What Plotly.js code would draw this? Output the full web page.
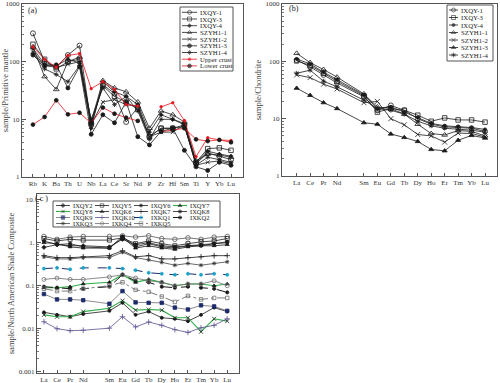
<!DOCTYPE html>
<html><head><meta charset="utf-8">
<script src="https://cdn.plot.ly/plotly-3.0.1.min.js"></script>
<style>html,body{margin:0;padding:0;background:#fff}#chart{width:500px;height:383px}</style>
</head><body><div id="chart"></div>
<script>
// ---------- DATA ----------
// Panel (a): primitive-mantle normalised spider diagram
const elemsA = ["Rb","K","Ba","Th","U","Nb","La","Ce","Sr","Nd","P","Zr","Hf","Sm","Ti","Y","Yb","Lu"];
const namesA = ["IXQY-1","IXQY-3","IXQY-4","SZYH1-1","SZYH1-2","SZYH1-3","SZYH1-4","Upper crust","Lower crust"];
const a_IXQY1  = [310,100,80,130,190,8,40,28,9,16,5,7,7,8,1.7,2.6,2.3,2.0];
const a_IXQY3  = [200,110,75,100,110,8.5,38,25,20,15,5,7,7,7.5,1.8,3.1,3.2,2.9];
const a_IXQY4  = [170,90,85,110,95,7,45,30,25,18,6,12,10,8.5,1.8,2.8,2.5,2.3];
const a_SZYH11 = [180,55,33,100,120,9,47,35,30,20,7,14,12,9,1.9,2.5,2.4,2.2];
const a_SZYH12 = [150,85,80,90,100,8,20,22,18,17,5,6,6,8,1.6,1.8,1.9,1.7];
const a_SZYH13 = [130,85,88,35,82,5.5,12,8.7,20,5,3.6,6.2,7,2.9,1.5,1.3,1.8,1.6];
const a_SZYH14 = [140,75,60,45,85,10,35,18,25,14,4.5,10,10,8,1.6,2.2,2.0,1.8];
const a_upper  = [180,110,80,128,138,34,45,33,18,17,null,16.5,19.4,9.5,2.25,4.8,4.4,4.3];
const a_lower  = [8.1,11,21.4,12.2,13,8.6,16,12.5,10.7,9.4,null,6.1,6.6,7,4.5,4.2,4.4,4.0];

// Panel (b): chondrite normalised REE
const rees = ["La","Ce","Pr","Nd","Sm","Eu","Gd","Tb","Dy","Ho","Er","Tm","Yb","Lu"];
const namesB = ["IXQY-1","IXQY-3","IXQY-4","SZYH1-1","SZYH1-2","SZYH1-3","SZYH1-4"];
const b_IXQY1  = [105,80,58,42,24,14,17,14,10,8.0,7.2,7.0,6.8,6.0];
const b_IXQY3  = [102,85,62,45,25,13,15,14,11.5,9,10.3,9.5,9.5,8.7];
const b_IXQY4  = [110,90,65,48,26,15,16,13,10.5,8.3,7.5,7.3,7.0,6.5];
const b_SZYH11 = [138,95,72,53,27,16,15,12,8,5.5,5.2,6.2,6.0,5.0];
const b_SZYH12 = [58,52,40,33,19,20,10,7.8,5.3,5.0,3.9,5.6,5.5,4.8];
const b_SZYH13 = [34,25.5,19,15,8.5,8.0,5.4,4.7,4.0,2.9,2.75,4.2,5.1,4.6];
const b_SZYH14 = [62,70,45,36,21,15,14,12,9,7.5,6.8,6.5,6.3,5.8];

// Panel (c): NASC normalised REE
const namesC = ["IXQY2","IXQY5","IXQY6","IXQY7","IXQY8","IXQK6","IXQK7","IXQK8","IXQK9","IXQK10","IXKQ1","IXKQ2","IXKQ3","IXKQ4","IXKQ5"];
const c_IXQY2  = [0.78,0.9,0.85,0.85,0.8,1.2,0.9,1.0,0.85,0.8,0.85,0.9,0.95,1.05];
const c_IXQY5  = [1.25,1.1,1.2,1.15,1.15,1.3,0.95,1.1,0.95,0.85,0.95,1.05,1.1,1.25];
const c_IXQY6  = [0.024,0.021,0.019,0.022,0.026,0.04,0.021,0.025,0.018,0.017,0.015,0.021,0.031,0.025];
const c_IXQY7  = [0.09,0.09,0.095,0.11,0.12,0.18,0.12,0.14,0.12,0.1,0.11,0.11,0.1,0.11];
const c_IXQY8  = [0.021,0.019,0.019,0.025,0.03,0.045,0.027,0.028,0.027,0.018,0.018,0.0085,0.017,0.015];
const c_IXQK6  = [1.0,0.95,0.8,0.75,0.75,1.3,0.75,0.85,0.75,0.7,0.8,0.85,0.85,0.9];
const c_IXQK7  = [0.5,0.45,0.45,0.47,0.5,0.65,0.47,0.5,0.42,0.42,0.45,0.47,0.5,0.5];
const c_IXQK8  = [1.1,0.9,0.95,0.8,0.75,1.4,0.8,0.95,0.8,0.75,0.85,0.85,0.95,1.0];
const c_IXQK9  = [0.064,0.048,0.048,0.046,0.038,0.075,0.041,0.04,0.04,0.031,0.028,0.035,0.033,0.026];
const c_IXQK10 = [0.0145,0.01,0.009,0.0092,0.0103,0.019,0.011,0.0143,0.012,0.0095,0.0082,0.0105,0.012,0.017];
const c_IXKQ1  = [0.25,0.26,0.24,0.26,0.26,0.25,0.23,0.2,0.19,0.18,0.19,0.18,0.19,0.18];
const c_IXKQ2  = [0.095,0.09,0.085,0.085,0.095,0.18,0.13,0.12,0.095,0.09,0.095,0.09,0.085,0.07];
const c_IXKQ3  = [0.47,0.42,0.42,0.45,0.45,0.6,0.45,0.4,0.35,0.3,0.33,0.3,0.33,0.36];
const c_IXKQ4  = [0.14,0.15,0.14,0.14,0.16,0.18,0.15,0.13,0.12,0.1,0.11,0.11,0.13,0.1];
const c_IXKQ5  = [0.085,0.075,0.075,0.085,0.1,0.12,0.08,0.072,0.056,0.042,0.058,0.048,0.052,0.052];
const c_unlabeled = [1.4,1.2,1.35,1.4,1.4,1.45,1.35,1.45,1.25,1.2,1.3,1.2,1.35,1.4];
const cTicksText = ["0.001","0.01","0.1","1.","10."];
const cTicksVals = [0.001,0.01,0.1,1,10];

// ---------- STYLES ----------
const K = "#1a1a1a", RED = "#e8141c", GREEN = "#2fae4a", NAVY = "#1c2a6b", PURP = "#5b5390", GRAY = "#6e6e6e", CYAN = "#1aa3c8";
function st(color, symbol, size, mcolor, dash, width){
  return {line:{color:color, width:width||0.8, dash:dash||"solid"},
          marker:{symbol:symbol, size:size, color:mcolor||color, line:{color:mcolor||color, width:0.8}}};
}
const stylesA = [st(K,"circle-open",5),st(K,"square-open",4.5),st(K,"diamond",3),st(K,"triangle-up-open",5),
                 st(K,"x-thin-open",4),st(K,"circle",4),st(K,"asterisk-open",4),st(RED,"circle",2.5,RED),st(RED,"circle",3.8,K)];
const stylesB = [st(K,"circle-open",5),st(K,"square-open",4.5),st(K,"circle",3),st(K,"triangle-up-open",5),
                 st(K,"x-thin-open",5),st(K,"triangle-up",4.5),st(K,"asterisk-open",4)];
const stylesC = [st(K,"diamond",3.2),st(K,"square-open",4),st(K,"circle",3),st(GREEN,"triangle-up",3.5,K,"solid",1.1),
                 st(GREEN,"x-thin-open",4,K,"solid",1.1),st(K,"triangle-up",3.5),st(K,"cross-thin-open",4),st(K,"circle",3.2),
                 st(GRAY,"square",3.5,NAVY),st(PURP,"cross-thin-open",4,PURP),st(NAVY,"circle",3,CYAN,"dash",1),
                 st(K,"circle",3.2,K,"dash",1),st("#444","asterisk-open",3.5,"#333"),st(GRAY,"circle-open",4,GRAY),
                 st(GRAY,"square-open",3.5,GRAY,"dashdot",0.9)];
const stUnl = st("#555","circle-open",4.5,"#555");

// ---------- TRACES ----------
const traces = [];
const seriesA = [a_IXQY1,a_IXQY3,a_IXQY4,a_SZYH11,a_SZYH12,a_SZYH13,a_SZYH14,a_upper,a_lower];
seriesA.forEach((v,i)=>traces.push(Object.assign({type:"scatter",mode:"lines+markers",x:elemsA,y:v,name:namesA[i],
  xaxis:"x",yaxis:"y",connectgaps:false,hoverinfo:"skip"},stylesA[i])));
const seriesB = [b_IXQY1,b_IXQY3,b_IXQY4,b_SZYH11,b_SZYH12,b_SZYH13,b_SZYH14];
seriesB.forEach((v,i)=>traces.push(Object.assign({type:"scatter",mode:"lines+markers",x:rees,y:v,name:namesB[i],
  xaxis:"x2",yaxis:"y2",hoverinfo:"skip"},stylesB[i])));
const seriesC = [c_IXQY2,c_IXQY5,c_IXQY6,c_IXQY7,c_IXQY8,c_IXQK6,c_IXQK7,c_IXQK8,c_IXQK9,c_IXQK10,c_IXKQ1,c_IXKQ2,c_IXKQ3,c_IXKQ4,c_IXKQ5];
traces.push(Object.assign({type:"scatter",mode:"lines+markers",x:rees,y:c_unlabeled,name:"",xaxis:"x3",yaxis:"y3",hoverinfo:"skip"},stUnl));
seriesC.forEach((v,i)=>traces.push(Object.assign({type:"scatter",mode:"lines+markers",x:rees,y:v,name:namesC[i],
  xaxis:"x3",yaxis:"y3",hoverinfo:"skip"},stylesC[i])));

// ---------- MANUAL LEGENDS (pixel overlay axis x4/y4) ----------
const FONT = "Liberation Serif, Times New Roman, serif";
const annotations = [], shapes = [];
function legend(names, styles, o){
  names.forEach((n,i)=>{
    const r = Math.floor(i/o.cols), c = i % o.cols;
    const x0 = o.x + c*o.colW, y = o.y + r*o.rowH, x1 = x0 + o.lineW;
    const s = styles[i];
    traces.push({type:"scatter",mode:"lines+markers",xaxis:"x4",yaxis:"y4",hoverinfo:"skip",
      x:[x0,(x0+x1)/2,x1], y:[y,y,y], line:s.line,
      marker:Object.assign({},s.marker,{size:[0,Math.min(s.marker.size,o.ms),0]})});
    annotations.push({xref:"x4",yref:"y4",x:x1+1.5,y:y,text:n,showarrow:false,xanchor:"left",yanchor:"middle",
      borderpad:0,font:{family:FONT,size:o.fs,color:"#222"}});
  });
  shapes.push({type:"rect",xref:"x4",yref:"y4",x0:o.bx0,x1:o.bx1,y0:o.by0,y1:o.by1,
    line:{color:"#555",width:1},fillcolor:"rgba(0,0,0,0)",layer:"below"});
}
legend(namesA, stylesA, {x:182,y:12.3,cols:1,colW:0,rowH:6.7,lineW:15,ms:4,fs:6.8,bx0:180,bx1:233,by0:7,by1:71});
legend(namesB, stylesB, {x:449,y:10,cols:1,colW:0,rowH:7.5,lineW:9,ms:4,fs:6.8,bx0:447,bx1:493,by0:5,by1:61});
legend(namesC, stylesC, {x:56,y:205.5,cols:4,colW:39,rowH:6,lineW:14,ms:3.5,fs:6.5,bx0:53,bx1:220,by0:201,by1:227});

// panel labels
[["(a)",26,10],["(b)",287,8],["( c )",33,198]].forEach(p=>annotations.push({xref:"x4",yref:"y4",x:p[1],y:p[2],text:p[0],
  showarrow:false,xanchor:"left",yanchor:"middle",font:{family:FONT,size:8,color:"#222"}}));

// ---------- LAYOUT ----------
const W=500,H=383;
const dx = (a,b)=>[a/W,b/W], dy = (top,bot)=>[1-bot/H,1-top/H];
const tickF = {family:FONT,size:7,color:"#333"};
const titleF = {family:FONT,size:8.5,color:"#444"};
function minorLog(lo, hi){ const v=[]; for(let d=lo; d<hi; d++) for(let m=2;m<10;m++) v.push(m*Math.pow(10,d)); return v; }
function xa(dom, range, extra){
  return Object.assign({domain:dom,range:range,type:"category",showline:true,mirror:true,linecolor:"#555",linewidth:1,
    ticks:"inside",ticklen:3,tickcolor:"#555",showgrid:false,zeroline:false,tickfont:tickF,fixedrange:true},extra||{});
}
function ya(dom, range, title, lo, hi, extra){
  return Object.assign({domain:dom,type:"log",range:range,showline:true,mirror:true,linecolor:"#555",linewidth:1,
    ticks:"inside",ticklen:4,tickcolor:"#555",showgrid:false,zeroline:false,tickfont:tickF,fixedrange:true,
    minor:{ticks:"inside",ticklen:2,tickcolor:"#777",showgrid:false,tickmode:"array",tickvals:minorLog(lo,hi)},
    title:{text:title,font:titleF,standoff:2}},extra||{});
}
const catB = rees.slice(0,4).concat(["Pm"]).concat(rees.slice(4));
const layout = {
  width:W,height:H,margin:{l:0,r:0,t:0,b:0},paper_bgcolor:"white",plot_bgcolor:"rgba(0,0,0,0)",showlegend:false,
  xaxis: xa(dx(22,243),[-0.94,18.03],{anchor:"y",categoryorder:"array",categoryarray:elemsA}),
  yaxis: ya(dy(4,177),[0,3],"sample/Primitive mantle",0,3,{anchor:"x",tickmode:"array",tickvals:[1,10,100,1000],ticktext:["1","10","100","1000"]}),
  xaxis2: xa(dx(282,497),[-1.09,14.89],{anchor:"y2",categoryorder:"array",categoryarray:catB,tickmode:"array",tickvals:rees,ticktext:rees}),
  yaxis2: ya(dy(4,176),[0,3],"sample/Chondrite",0,3,{anchor:"x2",tickmode:"array",tickvals:[1,10,100,1000],ticktext:["1","10","100","1000"]}),
  xaxis3: xa(dx(37,239),[-0.53,14.9],{anchor:"y3",categoryorder:"array",categoryarray:catB,tickmode:"array",tickvals:rees,ticktext:rees}),
  yaxis3: ya(dy(194,373),[-3.03,1.133],"sample/North American Shale Composite",-3,1,{anchor:"x3",tickmode:"array",tickvals:cTicksVals,ticktext:cTicksText}),
  xaxis4:{domain:[0,1],range:[0,W],visible:false,anchor:"y4",fixedrange:true},
  yaxis4:{domain:[0,1],range:[H,0],visible:false,anchor:"x4",fixedrange:true},
  annotations:annotations, shapes:shapes
};
Plotly.newPlot("chart", traces, layout, {staticPlot:true,displayModeBar:false});
</script></body></html>
